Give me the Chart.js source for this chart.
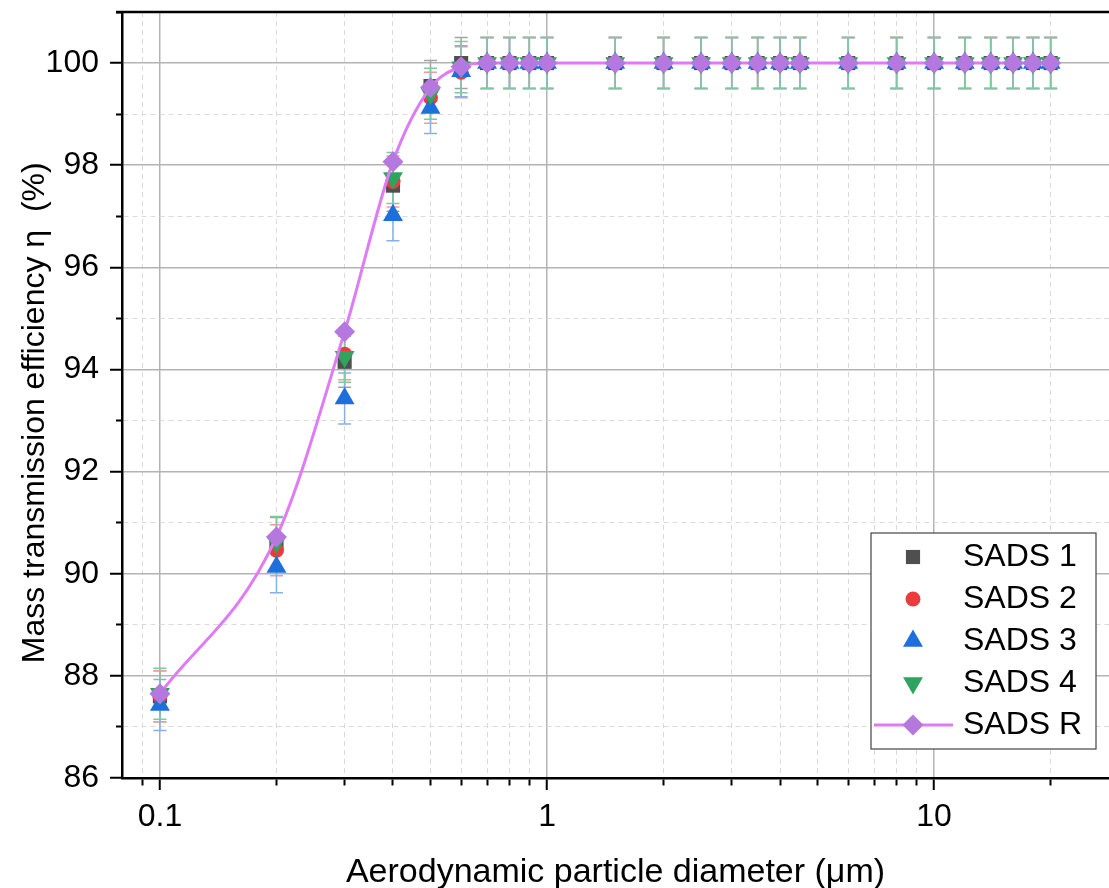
<!DOCTYPE html>
<html lang="en">
<head>
<meta charset="UTF-8">
<title>Mass transmission efficiency</title>
<script src="https://cdn.jsdelivr.net/npm/chart.js@4.4.0/dist/chart.umd.min.js"></script>
<style>
    body { margin: 0; background: #fff; }
    #wrap { width: 1109px; height: 888px; }
</style>
</head>
<body>
<div id="wrap"><canvas id="chart" width="1109" height="888"></canvas></div>
<script>
// particle diameters (um)
const diameters = [0.1, 0.2, 0.3, 0.4, 0.5, 0.6, 0.7, 0.8, 0.9, 1, 1.5, 2, 2.5, 3, 3.5, 4, 4.5, 6, 8, 10, 12, 14, 16, 18, 20];

// efficiency (%) per sampler
const sads1 = [87.6, 90.6, 94.15, 97.6, 99.55, 100, 100, 100, 100, 100, 100, 100, 100, 100, 100, 100, 100, 100, 100, 100, 100, 100, 100, 100, 100];
const sads2 = [87.6, 90.46, 94.3, 97.68, 99.32, 99.82, 100, 100, 100, 100, 100, 100, 100, 100, 100, 100, 100, 100, 100, 100, 100, 100, 100, 100, 100];
const sads3 = [87.43, 90.13, 93.43, 97.02, 99.12, 99.84, 100, 100, 100, 100, 100, 100, 100, 100, 100, 100, 100, 100, 100, 100, 100, 100, 100, 100, 100];
const sads4 = [87.65, 90.62, 94.25, 97.75, 99.4, 99.92, 100, 100, 100, 100, 100, 100, 100, 100, 100, 100, 100, 100, 100, 100, 100, 100, 100, 100, 100];
const sadsR = [87.65, 90.72, 94.74, 98.07, 99.52, 99.93, 100, 100, 100, 100, 100, 100, 100, 100, 100, 100, 100, 100, 100, 100, 100, 100, 100, 100, 100];

// +/- error (%)
const errors = [0.5, 0.5, 0.5, 0.5, 0.5, 0.5, 0.5, 0.5, 0.5, 0.5, 0.5, 0.5, 0.5, 0.5, 0.5, 0.5, 0.5, 0.5, 0.5, 0.5, 0.5, 0.5, 0.5, 0.5, 0.5];

// axis ticks
const xTicks = [0.09, 0.1, 0.2, 0.3, 0.4, 0.5, 0.6, 0.7, 0.8, 0.9, 1, 2, 3, 4, 5, 6, 7, 8, 9, 10, 20];
const xMajor = [0.1, 1, 10];
const xLabels = ['0.1', '1', '10'];
const yTicks = [86, 87, 88, 89, 90, 91, 92, 93, 94, 95, 96, 97, 98, 99, 100, 101];
const yMajor = [86, 88, 90, 92, 94, 96, 98, 100];

const FONT = "'Liberation Sans', Arial, sans-serif";

function pts(vals) {
    return vals.map((v, i) => ({ x: diameters[i], y: v }));
}

function markerSeries(label, vals, style, color, radius, rotation, errColor, order) {
    return {
        label: label,
        data: pts(vals),
        showLine: false,
        pointStyle: style,
        pointRotation: rotation,
        pointRadius: radius,
        pointHoverRadius: radius,
        pointBackgroundColor: color,
        pointBorderWidth: 0,
        backgroundColor: color,
        borderColor: color,
        errors: errors,
        errorColor: errColor,
        order: order
    };
}

const datasets = [
    markerSeries('SADS 1', sads1, 'rect', '#4f4f4f', 10, 0, '#a3a3a3', 5),
    markerSeries('SADS 2', sads2, 'circle', '#ec3b3d', 7.5, 0, '#f39a9a', 4),
    markerSeries('SADS 3', sads3, 'triangle', '#1c6fdc', 11.5, 0, '#86b0ec', 3),
    markerSeries('SADS 4', sads4, 'triangle', '#2fa460', 11.5, 180, '#80c89d', 2),
    {
        label: 'SADS R',
        data: pts(sadsR),
        showLine: true,
        borderColor: '#e07bf6',
        borderWidth: 3,
        cubicInterpolationMode: 'monotone',
        pointStyle: 'rectRot',
        pointRadius: 10.5,
        pointHoverRadius: 10.5,
        pointBackgroundColor: '#b478de',
        pointBorderWidth: 0,
        backgroundColor: '#b478de',
        order: 1
    }
];

// error bars under the markers
const errorBars = {
    id: 'errorBars',
    beforeDatasetsDraw(chart) {
        const { ctx, scales: { x, y } } = chart;
        chart.data.datasets.forEach((ds) => {
            if (!ds.errors) return;
            ctx.save();
            ctx.strokeStyle = ds.errorColor;
            ctx.lineWidth = 1.5;
            ds.data.forEach((p, j) => {
                const px = x.getPixelForValue(p.x);
                const top = y.getPixelForValue(p.y + ds.errors[j]);
                const bot = y.getPixelForValue(p.y - ds.errors[j]);
                ctx.beginPath();
                ctx.moveTo(px, top); ctx.lineTo(px, bot);
                ctx.moveTo(px - 6.5, top); ctx.lineTo(px + 6.5, top);
                ctx.moveTo(px - 6.5, bot); ctx.lineTo(px + 6.5, bot);
                ctx.stroke();
            });
            ctx.restore();
        });
    }
};

// top frame line + boxed legend inside the plot
const frameLegend = {
    id: 'frameLegend',
    afterDraw(chart) {
        const { ctx, chartArea: a } = chart;
        ctx.save();
        ctx.strokeStyle = '#000';
        ctx.lineWidth = 2.5;
        ctx.beginPath();
        ctx.moveTo(a.left - 6, a.top);
        ctx.lineTo(a.right, a.top);
        ctx.stroke();

        const bw = 225, bh = 216;
        const bx = a.right - 13 - bw;
        const by = a.bottom - 29 - bh;
        ctx.fillStyle = '#fff';
        ctx.fillRect(bx, by, bw, bh);
        ctx.strokeStyle = '#444';
        ctx.lineWidth = 1.2;
        ctx.strokeRect(bx, by, bw, bh);

        ctx.font = '32px ' + FONT;
        ctx.textBaseline = 'middle';
        ctx.textAlign = 'left';
        chart.data.datasets.forEach((ds, i) => {
            const cy = by + 24 + i * 42;
            const mx = bx + 42;
            if (ds.showLine) {
                ctx.strokeStyle = ds.borderColor;
                ctx.lineWidth = ds.borderWidth;
                ctx.beginPath();
                ctx.moveTo(bx + 3, cy);
                ctx.lineTo(bx + 82, cy);
                ctx.stroke();
            }
            ctx.fillStyle = ds.pointBackgroundColor;
            ctx.strokeStyle = ds.pointBackgroundColor;
            Chart.helpers.drawPoint(ctx, {
                pointStyle: ds.pointStyle,
                rotation: ds.pointRotation || 0,
                radius: ds.pointRadius,
                borderWidth: 0
            }, mx, cy);
            ctx.fillStyle = '#000';
            ctx.fillText(ds.label, bx + 92, cy);
        });
        ctx.restore();
    }
};

const ctx = document.getElementById('chart').getContext('2d');
new Chart(ctx, {
    type: 'scatter',
    data: { datasets: datasets },
    plugins: [errorBars, frameLegend],
    options: {
        responsive: false,
        animation: false,
        devicePixelRatio: 1,
        layout: { autoPadding: false, padding: { top: 12, left: 0, right: 0, bottom: 0 } },
        plugins: {
            legend: { display: false },
            tooltip: { enabled: false }
        },
        scales: {
            x: {
                type: 'logarithmic',
                bounds: 'data',
                min: 0.0798,
                max: 28.3,
                afterBuildTicks: (scale) => {
                    scale.ticks = xTicks.map(v => ({ value: v, major: xMajor.includes(v) }));
                },
                afterFit: (scale) => { scale.height = 110; },
                ticks: {
                    autoSkip: false,
                    maxRotation: 0,
                    padding: 8,
                    color: '#000',
                    font: { family: FONT, size: 32 },
                    callback: (v) => {
                        const k = xMajor.indexOf(v);
                        return k >= 0 ? xLabels[k] : '';
                    }
                },
                grid: {
                    color: (c) => c.tick && c.tick.major ? '#b3b3b3' : '#dadada',
                    lineWidth: (c) => c.tick && c.tick.major ? 1.5 : 1,
                    tickLength: 12,
                    tickColor: '#000',
                    tickWidth: 2,
                    tickBorderDash: (c) => c.tick && !c.tick.major ? [6, 100] : []
                },
                border: {
                    color: '#000',
                    width: 2.5,
                    dash: (c) => c.tick && !c.tick.major ? [5, 4] : []
                },
                title: {
                    display: true,
                    text: 'Aerodynamic particle diameter (μm)',
                    color: '#000',
                    font: { family: FONT, size: 34 },
                    padding: { top: 0, bottom: -5 }
                }
            },
            y: {
                min: 86,
                max: 101,
                afterBuildTicks: (scale) => {
                    scale.ticks = yTicks.map(v => ({ value: v, major: yMajor.includes(v) }));
                },
                afterFit: (scale) => { scale.width = 122; },
                ticks: {
                    autoSkip: false,
                    padding: 11,
                    color: '#000',
                    font: (c) => ({ family: FONT, size: (c.tick && c.tick.value === 101) ? 1 : 32 }),
                    callback: (v) => yMajor.includes(v) ? String(v) : ''
                },
                grid: {
                    color: (c) => c.tick && c.tick.major ? '#b3b3b3' : '#dadada',
                    lineWidth: (c) => c.tick && c.tick.major ? 1.5 : 1,
                    tickLength: 12,
                    tickColor: '#000',
                    tickWidth: 2,
                    tickBorderDash: (c) => c.tick && !c.tick.major ? [0, 6, 6, 100] : []
                },
                border: {
                    color: '#000',
                    width: 2.5,
                    dash: (c) => c.tick && !c.tick.major ? [5, 4] : []
                },
                title: {
                    display: true,
                    // trailing spaces nudge the rotated title down a little
                    text: 'Mass transmission efficiency η  (%)    ',
                    color: '#000',
                    font: { family: FONT, size: 32 },
                    padding: { top: 16, bottom: 0 }
                }
            }
        }
    }
});
</script>
</body>
</html>
